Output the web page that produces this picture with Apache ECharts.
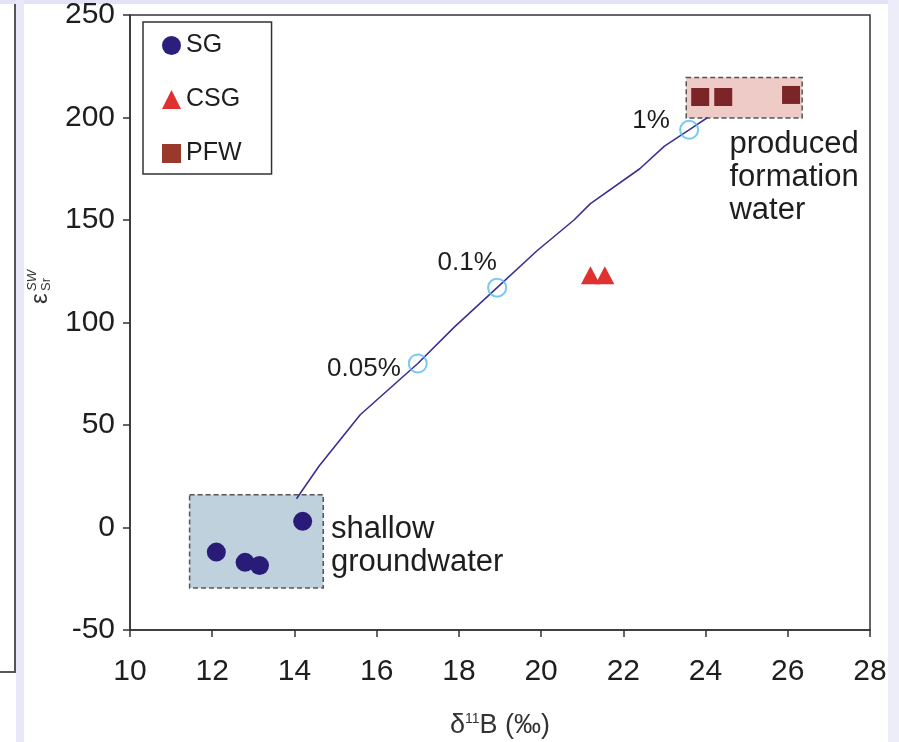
<!DOCTYPE html>
<html>
<head>
<meta charset="utf-8">
<script src="https://cdn.jsdelivr.net/npm/echarts@6/dist/echarts.min.js"></script>
<style>
  html, body { margin: 0; padding: 0; background: #ffffff; }
  #chart { width: 899px; height: 742px; }
</style>
</head>
<body>
<div id="chart"></div>
<script>
// Sample groups: δ11B (‰) vs ε_Sr^SW
const sgX = [14.2, 12.1, 12.8, 13.15];
const sgY = [3, -12, -17, -18.5];
const csgX = [21.2, 21.55];
const csgY = [123, 123];
const pfwX = [23.87, 24.43, 26.08];
const pfwY = [210, 210, 211];

// Mixing curve between shallow groundwater and produced formation water
const mixX = [14.05, 14.6, 15.6, 17.0, 17.9, 18.93, 19.9, 20.8, 21.2, 22.4, 23.0, 23.6, 24.05];
const mixY = [14, 30, 55, 80, 98, 117, 135, 150, 158, 175, 186, 194, 200];

// Mixing fractions marked on the curve
const fracX = [17.0, 18.93, 23.6];
const fracY = [80, 117, 194];
const fracLabels = ['0.05%', '0.1%', '1%'];

// End-member fields [xMin, yMax, xMax, yMin]
const shallowField = [11.45, 16, 14.7, -29.5];
const producedField = [23.53, 219.5, 26.35, 199.8];

// Axis ranges
const xTicks = { min: 10, max: 28, interval: 2 };
const yTicks = { min: -50, max: 250, interval: 50 };

const FONT = '"Liberation Sans", Arial, sans-serif';
const INK = '#1e1e1e';
const zip = (xs, ys) => xs.map((x, i) => [x, ys[i]]);

const chart = echarts.init(document.getElementById('chart'), null, { renderer: 'canvas' });

const fracLabelOffsets = [[-6, 5], [-30, -2], [-38, 14]];

const option = {
  backgroundColor: '#ffffff',
  animation: false,
  textStyle: { fontFamily: FONT },
  grid: {
    left: 130, right: 29, top: 15, bottom: 112,
    outerBoundsMode: 'none',
    containLabel: false,
    show: true, borderColor: '#333', borderWidth: 1.5, backgroundColor: 'transparent'
  },
  legend: {
    orient: 'vertical',
    left: 143, top: 22,
    borderColor: '#333', borderWidth: 1.5,
    padding: [11, 30, 8, 19],
    itemGap: 29,
    itemWidth: 19, itemHeight: 19,
    itemStyle: { borderWidth: 0 },
    textStyle: { fontSize: 25, color: INK, fontFamily: FONT },
    data: [
      { name: 'SG', icon: 'circle', itemStyle: { color: '#2a1f7c' } },
      { name: 'CSG', icon: 'triangle', itemStyle: { color: '#e03131' } },
      { name: 'PFW', icon: 'rect', itemStyle: { color: '#99392c' } }
    ]
  },
  xAxis: {
    type: 'value',
    min: xTicks.min, max: xTicks.max, interval: xTicks.interval,
    splitLine: { show: false },
    axisLine: { onZero: false, lineStyle: { color: '#333', width: 1.5 } },
    axisTick: { inside: false, length: 7, lineStyle: { color: '#333', width: 1.5 } },
    axisLabel: { fontSize: 30, color: INK, margin: 27, fontFamily: FONT },
    name: '{d|δ}{s|11}{d|B (‰)}',
    nameLocation: 'middle',
    nameGap: 82,
    nameTextStyle: {
      rich: {
        d: { fontSize: 27, color: '#333', fontFamily: FONT },
        s: { fontSize: 14, color: '#333', fontFamily: FONT, verticalAlign: 'top', padding: [0, 0, 10, 0] }
      }
    }
  },
  yAxis: {
    type: 'value',
    min: yTicks.min, max: yTicks.max, interval: yTicks.interval,
    splitLine: { show: false },
    axisLine: { show: true, onZero: false, lineStyle: { color: '#333', width: 1.5 } },
    axisTick: { show: true, inside: false, length: 7, lineStyle: { color: '#333', width: 1.5 } },
    axisLabel: { fontSize: 30, color: INK, margin: 15, fontFamily: FONT }
  },
  graphic: [
    // page frame
    { type: 'rect', z: -10, silent: true, shape: { x: 0, y: 0, width: 899, height: 4 }, style: { fill: '#e3e3f7' } },
    { type: 'rect', z: -10, silent: true, shape: { x: 16, y: 0, width: 8, height: 742 }, style: { fill: '#e8e8f8' } },
    { type: 'rect', z: -10, silent: true, shape: { x: 888, y: 0, width: 11, height: 742 }, style: { fill: '#ededfa' } },
    { type: 'polyline', z: -9, silent: true, shape: { points: [[15, 4], [15, 672], [0, 672]] }, style: { stroke: '#555', lineWidth: 2, fill: null } },
    // y-axis name: ε with SW superscript and Sr subscript
    {
      type: 'group', left: 26, top: 270, rotation: Math.PI / 2, silent: true,
      children: [
        { type: 'text', x: 0, y: 0, style: { text: 'ε', font: '24px ' + FONT, fill: '#333' } },
        { type: 'text', x: 13, y: -2, style: { text: 'SW', font: 'italic 13px ' + FONT, fill: '#333' } },
        { type: 'text', x: 13, y: 12, style: { text: 'Sr', font: '13px ' + FONT, fill: '#333' } }
      ]
    }
  ],
  series: [
    {
      name: 'fields',
      type: 'scatter',
      data: [],
      z: 1,
      silent: true,
      markArea: {
        silent: true,
        data: [
          [
            {
              coord: [shallowField[0], shallowField[1]],
              itemStyle: { color: '#c0d1de', borderColor: '#555', borderWidth: 1.5, borderType: [5, 3] },
              label: {
                show: true, position: 'right', distance: 7, offset: [0, 5],
                formatter: 'shallow\ngroundwater',
                fontSize: 31, lineHeight: 33, color: INK, align: 'left', fontFamily: FONT
              }
            },
            { coord: [shallowField[2], shallowField[3]] }
          ],
          [
            {
              coord: [producedField[0], producedField[1]],
              itemStyle: { color: '#eecbc6', borderColor: '#555', borderWidth: 1.5, borderType: [5, 3] },
              label: {
                show: true, position: [44, 51],
                formatter: 'produced\nformation\nwater',
                fontSize: 31, lineHeight: 33, color: INK, align: 'left', verticalAlign: 'top', fontFamily: FONT
              }
            },
            { coord: [producedField[2], producedField[3]] }
          ]
        ]
      }
    },
    {
      name: 'mixing',
      type: 'line',
      data: zip(mixX, mixY),
      showSymbol: false,
      symbol: 'none',
      z: 2,
      lineStyle: { color: '#3b3191', width: 1.6 }
    },
    {
      name: 'fractions',
      type: 'scatter',
      z: 3,
      data: fracX.map((x, i) => ({
        value: [x, fracY[i]],
        label: {
          show: true,
          formatter: fracLabels[i],
          position: i === 0 ? 'left' : 'top',
          distance: i === 0 ? 1 : 0,
          offset: fracLabelOffsets[i],
          fontSize: 26, color: INK, opacity: 1, fontFamily: FONT
        }
      })),
      symbol: 'circle',
      symbolSize: 18,
      itemStyle: { color: 'transparent', borderColor: '#52bdf0', borderWidth: 2 }
    },
    {
      name: 'SG', type: 'scatter', z: 4,
      data: zip(sgX, sgY), symbol: 'circle', symbolSize: 19,
      itemStyle: { color: '#281c78', opacity: 1 }
    },
    {
      name: 'CSG', type: 'scatter', z: 4,
      data: zip(csgX, csgY), symbol: 'triangle', symbolSize: [19, 18],
      itemStyle: { color: '#e03131', opacity: 1 }
    },
    {
      name: 'PFW', type: 'scatter', z: 4,
      data: zip(pfwX, pfwY), symbol: 'rect', symbolSize: 18,
      itemStyle: { color: '#7c2529', opacity: 1 }
    }
  ]
};

chart.setOption(option);
</script>
</body>
</html>
